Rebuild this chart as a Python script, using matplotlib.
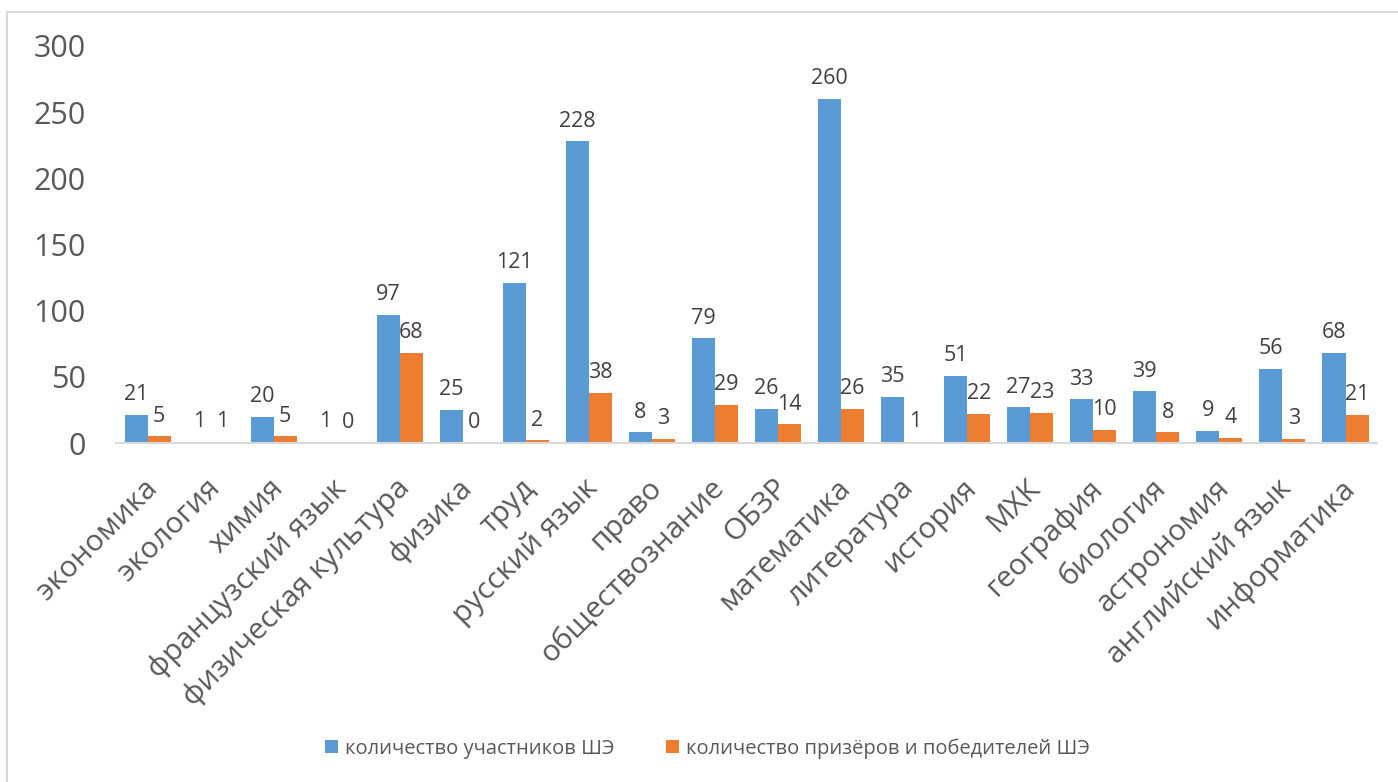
import matplotlib
matplotlib.use("Agg")
import matplotlib.pyplot as plt
import matplotlib.transforms as mtransforms
import numpy as np
from matplotlib.patches import Rectangle

plt.rcParams['font.family'] = ['Open Sans', 'DejaVu Sans']

# data
subjects = ["экономика", "экология", "химия", "французский язык",
            "физическая культура", "физика", "труд", "русский язык", "право",
            "обществознание", "ОБЗР", "математика", "литература", "история",
            "МХК", "география", "биология", "астрономия", "английский язык",
            "информатика"]
participants = [21, 1, 20, 1, 97, 25, 121, 228, 8, 79, 26, 260, 35, 51, 27, 33, 39, 9, 56, 68]
winners = [5, 1, 5, 0, 68, 0, 2, 38, 3, 29, 14, 26, 1, 22, 23, 10, 8, 4, 3, 21]

blue = "#5B9BD5"
orange = "#ED7D31"
grey_text = "#595959"

fig = plt.figure(figsize=(13.98, 7.82), dpi=100)
ax = fig.add_axes([0.083, 0.4335, 0.902, 0.5077])

x = np.arange(len(subjects))
w = 0.365
b1 = ax.bar(x - w / 2, participants, w, color=blue, label="количество участников ШЭ")
b2 = ax.bar(x + w / 2, winners, w, color=orange, label="количество призёров и победителей ШЭ")

for bars, vals in ((b1, participants), (b2, winners)):
    for rect, v in zip(bars, vals):
        ax.annotate(str(v), (rect.get_x() + rect.get_width() / 2, rect.get_height()),
                    xytext=(0, 7), textcoords="offset points", ha="center", va="bottom",
                    fontsize=15.5, color="#404040")

ax.set_xlim(-0.5, len(subjects) - 0.5)
ax.set_ylim(0, 300)
ax.set_yticks(range(0, 301, 50))
ax.tick_params(axis="y", length=0, labelsize=22, labelcolor=grey_text, pad=22)
ax.tick_params(axis="x", length=0, pad=22)
ax.set_xticks(x)
ax.set_xticklabels(subjects, rotation=45, ha="right", rotation_mode="anchor",
                   fontsize=21.5, color=grey_text)
# nudge the slanted labels a bit to the left
shift = mtransforms.ScaledTranslation(-5 / 100, 0, fig.dpi_scale_trans)
for lbl in ax.get_xticklabels():
    lbl.set_transform(lbl.get_transform() + shift)

for s in ("top", "right", "left"):
    ax.spines[s].set_visible(False)
ax.spines["bottom"].set_color("#D9D9D9")
ax.spines["bottom"].set_linewidth(1.5)

leg = fig.legend(handles=[b1, b2], loc="center", bbox_to_anchor=(0.506, 0.043), ncol=2,
                 frameon=False, fontsize=14.5, handlelength=0.65, handleheight=0.65,
                 handletextpad=0.3, columnspacing=2.6)
for t in leg.get_texts():
    t.set_color(grey_text)

fig.patches.append(Rectangle((7 / 1398, -0.1), 1.2, 1 - 12 / 782 + 0.1,
                             transform=fig.transFigure, fill=False,
                             edgecolor="#D9D9D9", linewidth=1.5))

fig.savefig("out.png", dpi=100)
